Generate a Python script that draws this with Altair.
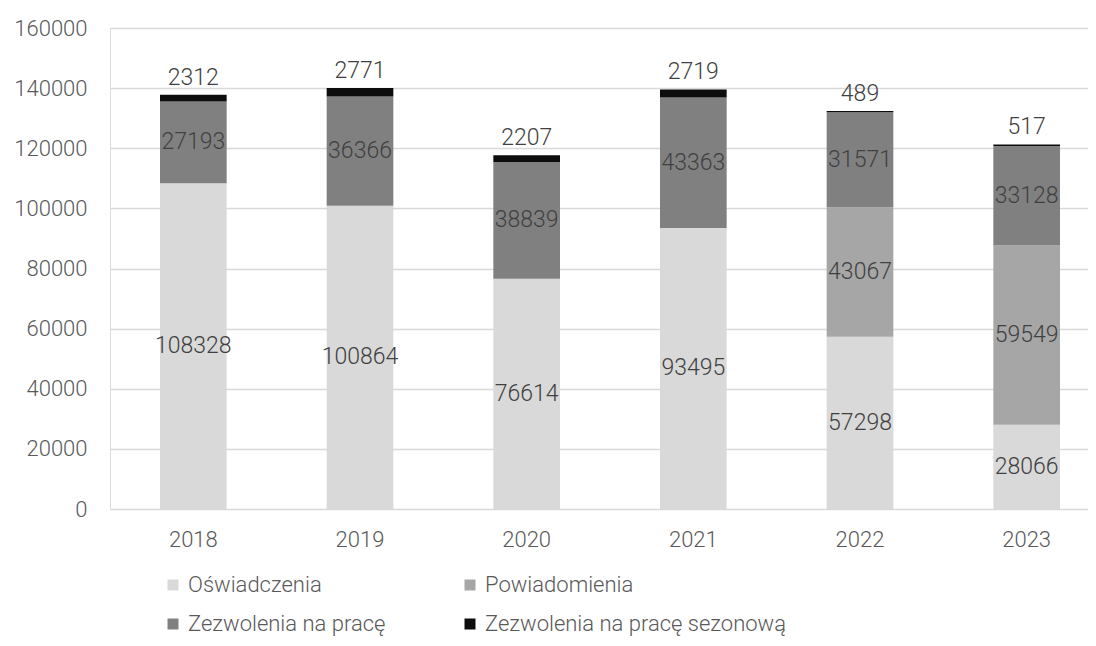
import altair as alt
import pandas as pd

years = ["2018", "2019", "2020", "2021", "2022", "2023"]
series = ["Oświadczenia", "Powiadomienia", "Zezwolenia na pracę", "Zezwolenia na pracę sezonową"]
oswiadczenia = [108328, 100864, 76614, 93495, 57298, 28066]
powiadomienia = [0, 0, 0, 0, 43067, 59549]
zezwolenia = [27193, 36366, 38839, 43363, 31571, 33128]
sezonowe = [2312, 2771, 2207, 2719, 489, 517]
colors = ["#D9D9D9", "#A6A6A6", "#808080", "#0D0D0D"]

rows = []
for i, y in enumerate(years):
    for k, (s, vals) in enumerate(zip(series, [oswiadczenia, powiadomienia, zezwolenia, sezonowe])):
        rows.append({"year": y, "series": s, "idx": k, "value": vals[i]})
df = pd.DataFrame(rows)

FONT = "Roboto"
W = 300
TXT = "#404040"
AX = "#595959"

xscale = alt.Scale(range=[0, 1000], paddingInner=0.6, paddingOuter=0.3)

base = alt.Chart(df).transform_stack(
    stack="value", groupby=["year"], as_=["y0", "y1"],
    sort=[alt.SortField("idx", order="ascending")]
).transform_calculate(mid="(datum.y0 + datum.y1) / 2")

xenc = alt.X("year:N", title=None, scale=xscale,
             axis=alt.Axis(labelAngle=0, labelFontSize=22, labelColor=AX, labelFont=FONT,
                           labelFontWeight=W, ticks=False, domain=False, grid=False,
                           labelPadding=20))

bars = base.mark_bar().encode(
    x=xenc,
    y=alt.Y("y0:Q", title=None, scale=alt.Scale(domain=[0, 160000]),
            axis=alt.Axis(values=[0, 20000, 40000, 60000, 80000, 100000, 120000, 140000, 160000],
                          format="d", labelFontSize=22, labelColor=AX, labelFont=FONT,
                          labelFontWeight=W, ticks=False, domain=False,
                          gridColor="#D9D9D9", gridWidth=1.5, labelPadding=23)),
    y2="y1:Q",
    color=alt.Color("series:N", scale=alt.Scale(domain=series, range=colors),
                    legend=alt.Legend(title=None, orient="none", legendX=52, legendY=546,
                                      direction="horizontal", columns=2, columnPadding=73,
                                      rowPadding=17, symbolType="square", symbolSize=121,
                                      symbolStrokeWidth=0, labelFontSize=22, labelFont=FONT,
                                      labelFontWeight=W, labelColor=AX, labelOffset=4,
                                      labelLimit=400)),
)

mid_labels = base.transform_filter("datum.idx < 3 && datum.value > 0").mark_text(
    fontSize=23, font=FONT, fontWeight=W, color=TXT
).encode(x=alt.X("year:N", scale=xscale), y="mid:Q", text=alt.Text("value:Q", format="d"))

top_labels = base.transform_filter("datum.idx == 3").mark_text(
    fontSize=23, font=FONT, fontWeight=W, color=TXT, baseline="bottom", dy=-5
).encode(x=alt.X("year:N", scale=xscale), y="y1:Q", text=alt.Text("value:Q", format="d"))

chart = alt.layer(bars, mid_labels, top_labels).properties(
    width=978, height=481,
    autosize=alt.AutoSizeParams(type="none"),
    padding={"left": 102, "top": 20, "right": 0, "bottom": 129},
).configure_view(stroke=None).configure(background="white")

chart.save("out.html", embed_options={"renderer": "svg", "actions": False})
